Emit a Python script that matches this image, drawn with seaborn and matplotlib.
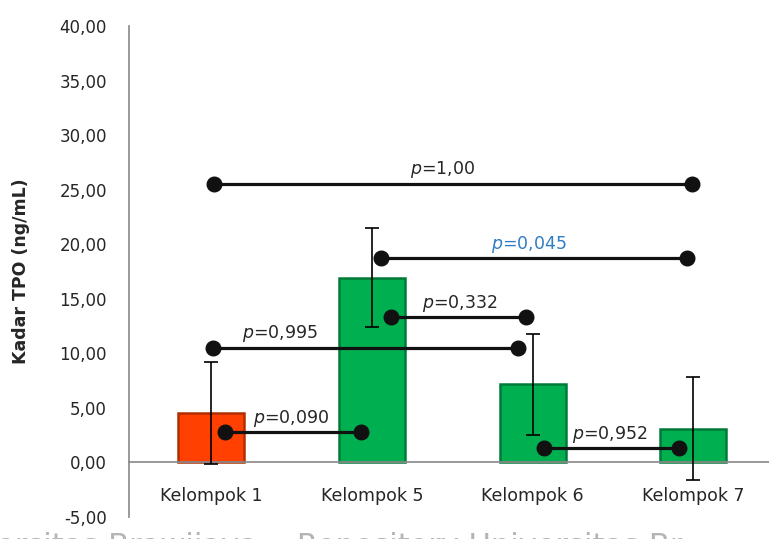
import numpy as np
import pandas as pd
import matplotlib
matplotlib.use("Agg")
import matplotlib.pyplot as plt
import seaborn as sns

# === DATA ===
kelompok = ["Kelompok 1", "Kelompok 5", "Kelompok 6", "Kelompok 7"]
rerata = [4.55, 16.95, 7.15, 3.10]
sd = [4.65, 4.55, 4.65, 4.70]
warna = ["#FF4000", "#00B050", "#00B050", "#00B050"]
tepi = ["#B02E00", "#007A38", "#007A38", "#007A38"]

# garis perbandingan p-value
p_label = ["1,00", "0,045", "0,332", "0,995", "0,090", "0,952"]
p_x1 = [0.02, 1.06, 1.12, 0.01, 0.09, 2.07]
p_x2 = [2.99, 2.96, 1.96, 1.91, 0.93, 2.91]
p_y = [25.5, 18.7, 13.3, 10.5, 2.75, 1.3]
p_tx = [1.44, 1.98, 1.55, 0.43, 0.50, 2.48]
p_warna = ["#262626", "#2F7DC4", "#262626", "#262626", "#262626", "#262626"]

yticks = np.arange(-5, 45, 5)

df = pd.DataFrame({"kelompok": kelompok, "rerata": rerata, "sd": sd})

sns.set_theme(style="white")
plt.rcParams["font.family"] = ["DejaVu Sans"]

fig = plt.figure(figsize=(7.69, 5.39), dpi=100)
ax = fig.add_axes([129 / 769, 22 / 539, 1 - 129 / 769, 491 / 539])

sns.barplot(data=df, x="kelompok", y="rerata", hue="kelompok", palette=warna,
            saturation=1, legend=False, errorbar=None, width=0.41, ax=ax, zorder=2)
for patch, ec in zip(ax.patches, tepi):
    patch.set_edgecolor(ec)
    patch.set_linewidth(1.8)

pos = np.arange(len(kelompok))
ax.errorbar(pos, rerata, yerr=sd, fmt="none", ecolor="black",
            elinewidth=1.2, capsize=5, capthick=1.2, zorder=3)

for lab, x1, x2, y, tx, c in zip(p_label, p_x1, p_x2, p_y, p_tx, p_warna):
    ax.plot([x1, x2], [y, y], color="#111111", lw=2.3, zorder=4,
            marker="o", markersize=10.5, solid_capstyle="butt")
    ax.annotate(f"$p$={lab}", (tx, y), xytext=(0, 7), textcoords="offset points",
                ha="center", va="baseline", fontsize=12.5, color=c, zorder=5)

ax.set_xlim(-0.51, 3.47)
ax.set_ylim(-5, 40)
ax.set_yticks(yticks)
ax.set_yticklabels([f"{v:.2f}".replace(".", ",") for v in yticks])
ax.set_xlabel("")
ax.set_ylabel("Kadar TPO (ng/mL)", fontsize=12.5, fontweight="bold")
ax.yaxis.set_label_coords(-0.155, 0.5)

for s in ["top", "right"]:
    ax.spines[s].set_visible(False)
ax.spines["left"].set_color("#8C8C8C")
ax.spines["bottom"].set_color("#8C8C8C")
ax.spines["bottom"].set_position(("data", 0))
ax.tick_params(axis="y", length=0, pad=16, labelsize=12, labelcolor="#262626")
ax.tick_params(axis="x", length=0, pad=18, labelsize=12.5, labelcolor="#262626")

# watermark repositori (terpotong di bawah)
fig.text(-0.005, -0.03, "ersitas Brawijaya    Repository Universitas Br",
         fontsize=22, color="#B4B4B4", va="baseline", ha="left")

fig.savefig("out.png", dpi=100)
